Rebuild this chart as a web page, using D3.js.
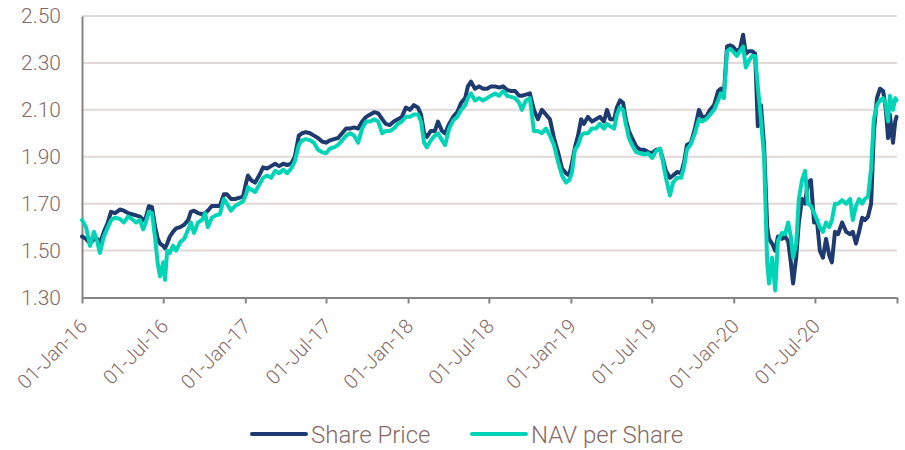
<!DOCTYPE html>
<html>
<head>
<meta charset="utf-8">
<script src="https://cdn.jsdelivr.net/npm/d3@7"></script>
<style>
  html, body { margin: 0; padding: 0; background: #ffffff; }
  svg { display: block; }
  text { font-family: Roboto, "Open Sans", sans-serif; font-weight: 300; fill: #866a66; }
</style>
</head>
<body>
<svg id="chart" width="905" height="450"></svg>
<script>
const dates = [
  "2016-01-01","2016-01-10","2016-01-19","2016-01-28","2016-02-04","2016-02-10","2016-02-19","2016-02-28",
  "2016-03-06","2016-03-15","2016-03-26","2016-04-04","2016-04-13","2016-04-22","2016-05-01","2016-05-10",
  "2016-05-17","2016-05-23","2016-05-30","2016-06-06","2016-06-13","2016-06-19","2016-06-24","2016-07-01",
  "2016-07-05","2016-07-10","2016-07-16","2016-07-23","2016-07-30","2016-08-08","2016-08-17","2016-08-26",
  "2016-09-01","2016-09-08","2016-09-17","2016-09-26","2016-10-03","2016-10-09","2016-10-18","2016-10-27",
  "2016-11-05","2016-11-14","2016-11-21","2016-11-30","2016-12-09","2016-12-18","2016-12-27",
  "2017-01-03","2017-01-07","2017-01-14","2017-01-23","2017-02-01","2017-02-10","2017-02-19","2017-02-28",
  "2017-03-09","2017-03-18","2017-03-27","2017-04-05","2017-04-14","2017-04-22","2017-05-01","2017-05-08",
  "2017-05-17","2017-05-26","2017-06-04","2017-06-13","2017-06-22","2017-07-01","2017-07-10","2017-07-19",
  "2017-07-28","2017-08-06","2017-08-15","2017-08-24","2017-09-02","2017-09-11","2017-09-20","2017-09-29",
  "2017-10-08","2017-10-17","2017-10-26","2017-11-04","2017-11-12","2017-11-21","2017-11-30","2017-12-09",
  "2017-12-18","2017-12-27",
  "2018-01-05","2018-01-14","2018-01-23","2018-01-30","2018-02-06","2018-02-12","2018-02-21","2018-03-02",
  "2018-03-09","2018-03-18","2018-03-25","2018-04-03","2018-04-12","2018-04-21","2018-04-30","2018-05-09",
  "2018-05-15","2018-05-22","2018-05-31","2018-06-09","2018-06-18","2018-06-27","2018-07-06","2018-07-15",
  "2018-07-24","2018-08-02","2018-08-11","2018-08-20","2018-08-29","2018-09-07","2018-09-13","2018-09-22",
  "2018-10-01","2018-10-10","2018-10-19","2018-10-28","2018-11-06","2018-11-15","2018-11-24","2018-12-03",
  "2018-12-12","2018-12-21","2018-12-28",
  "2019-01-03","2019-01-10","2019-01-17","2019-01-24","2019-01-30","2019-02-08","2019-02-17","2019-02-26",
  "2019-03-07","2019-03-16","2019-03-23","2019-03-30","2019-04-08","2019-04-14","2019-04-21","2019-04-28",
  "2019-05-04","2019-05-11","2019-05-18","2019-05-27","2019-06-05","2019-06-14","2019-06-23","2019-07-02",
  "2019-07-11","2019-07-20","2019-07-26","2019-08-02","2019-08-11","2019-08-18","2019-08-27","2019-09-05",
  "2019-09-12","2019-09-18","2019-09-27","2019-10-06","2019-10-15","2019-10-22","2019-10-31","2019-11-09",
  "2019-11-18","2019-11-27","2019-12-03","2019-12-10","2019-12-17","2019-12-24","2019-12-30",
  "2020-01-08","2020-01-15","2020-01-22","2020-01-28","2020-02-04","2020-02-11","2020-02-18","2020-02-24",
  "2020-03-02","2020-03-09","2020-03-16","2020-03-20","2020-03-27","2020-04-03","2020-04-09","2020-04-18",
  "2020-04-25","2020-05-02","2020-05-08","2020-05-13","2020-05-20","2020-05-26","2020-06-02","2020-06-09",
  "2020-06-15","2020-06-22","2020-06-29","2020-07-06","2020-07-12","2020-07-19","2020-07-26","2020-08-02",
  "2020-08-08","2020-08-15","2020-08-22","2020-08-31","2020-09-09","2020-09-18","2020-09-24","2020-10-01",
  "2020-10-08","2020-10-15","2020-10-21","2020-10-28","2020-11-04","2020-11-10","2020-11-17","2020-11-24",
  "2020-12-01","2020-12-07","2020-12-12","2020-12-16","2020-12-23","2020-12-28","2020-12-31"
];

const sharePrice = [
  1.56,1.55,1.53,1.55,1.55,1.53,1.58,1.62,
  1.665,1.66,1.675,1.67,1.66,1.655,1.65,1.645,
  1.63,1.64,1.69,1.685,1.60,1.55,1.53,1.52,
  1.51,1.53,1.56,1.58,1.595,1.60,1.61,1.63,
  1.665,1.67,1.66,1.655,1.66,1.67,1.69,1.69,
  1.69,1.74,1.74,1.72,1.72,1.725,1.73,
  1.79,1.82,1.80,1.79,1.82,1.855,1.85,1.86,
  1.87,1.86,1.87,1.865,1.87,1.90,1.99,2.00,
  2.005,2.00,1.99,1.98,1.965,1.96,1.97,1.975,
  1.98,2.00,2.02,2.02,2.025,2.02,2.05,2.07,
  2.08,2.09,2.085,2.06,2.04,2.035,2.05,2.06,
  2.07,2.11,
  2.10,2.12,2.11,2.08,2.00,1.985,2.01,2.01,
  2.05,2.01,2.00,2.04,2.07,2.09,2.13,2.15,
  2.20,2.22,2.19,2.20,2.19,2.19,2.20,2.20,
  2.195,2.20,2.185,2.18,2.18,2.16,2.16,2.165,
  2.17,2.10,2.06,2.10,2.08,2.06,1.98,1.92,
  1.85,1.83,1.82,
  1.87,1.94,1.99,2.06,2.04,2.07,2.05,2.06,
  2.07,2.05,2.10,2.06,2.06,2.11,2.14,2.13,
  2.06,2.01,1.98,1.945,1.93,1.93,1.92,1.915,
  1.93,1.93,1.89,1.84,1.81,1.82,1.835,1.83,
  1.88,1.95,1.96,2.02,2.10,2.07,2.07,2.10,
  2.12,2.18,2.19,2.17,2.37,2.375,2.37,
  2.35,2.36,2.42,2.34,2.35,2.35,2.34,2.03,
  2.12,1.95,1.60,1.55,1.53,1.50,1.56,1.55,
  1.56,1.54,1.45,1.36,1.47,1.62,1.72,1.70,
  1.79,1.80,1.62,1.62,1.50,1.47,1.55,1.48,
  1.45,1.58,1.57,1.62,1.58,1.57,1.58,1.53,
  1.58,1.64,1.63,1.645,1.70,2.00,2.15,2.19,
  2.18,2.10,1.98,2.08,1.96,2.05,2.07
];

const navPerShare = [
  1.63,1.60,1.52,1.58,1.54,1.49,1.56,1.60,
  1.63,1.64,1.635,1.62,1.645,1.635,1.62,1.63,
  1.59,1.62,1.665,1.66,1.55,1.44,1.39,1.45,
  1.375,1.50,1.49,1.52,1.50,1.535,1.55,1.59,
  1.62,1.575,1.62,1.63,1.66,1.60,1.64,1.65,
  1.655,1.72,1.70,1.67,1.69,1.70,1.71,
  1.74,1.77,1.76,1.75,1.78,1.81,1.82,1.81,
  1.84,1.83,1.845,1.83,1.85,1.88,1.95,1.97,
  1.975,1.97,1.96,1.93,1.92,1.915,1.935,1.94,
  1.95,1.97,1.99,2.00,1.99,1.96,2.02,2.05,
  2.05,2.06,2.05,2.00,2.01,2.01,2.02,2.04,
  2.05,2.07,
  2.07,2.08,2.08,2.05,1.96,1.94,1.97,1.99,
  2.00,1.97,1.95,2.02,2.055,2.07,2.10,2.12,
  2.15,2.17,2.14,2.15,2.14,2.15,2.16,2.17,
  2.16,2.18,2.16,2.155,2.15,2.13,2.10,2.14,
  2.15,2.01,2.01,2.00,2.02,1.99,1.95,1.88,
  1.82,1.79,1.80,
  1.83,1.93,1.95,1.99,2.00,2.00,2.02,2.02,
  2.04,2.02,2.04,2.03,2.02,2.08,2.11,2.10,
  2.04,1.98,1.95,1.92,1.915,1.91,1.915,1.895,
  1.925,1.935,1.88,1.81,1.735,1.79,1.81,1.81,
  1.86,1.93,1.955,2.00,2.06,2.05,2.06,2.08,
  2.10,2.14,2.17,2.15,2.35,2.36,2.35,
  2.33,2.35,2.37,2.28,2.31,2.33,2.33,2.20,
  2.06,1.90,1.45,1.36,1.47,1.33,1.54,1.575,
  1.57,1.62,1.56,1.47,1.53,1.72,1.80,1.84,
  1.70,1.69,1.66,1.63,1.60,1.58,1.62,1.60,
  1.63,1.70,1.70,1.715,1.70,1.72,1.63,1.69,
  1.72,1.70,1.72,1.73,1.85,2.06,2.12,2.14,
  2.15,2.12,2.05,2.16,2.10,2.15,2.14
];

const yTicks = [1.30, 1.50, 1.70, 1.90, 2.10, 2.30, 2.50];
const xTickDates = ["2016-01-01","2016-07-01","2017-01-01","2017-07-01","2018-01-01","2018-07-01",
                    "2019-01-01","2019-07-01","2020-01-01","2020-07-01","2021-01-01"];
const xTickLabels = ["01-Jan-16","01-Jul-16","01-Jan-17","01-Jul-17","01-Jan-18","01-Jul-18",
                     "01-Jan-19","01-Jul-19","01-Jan-20","01-Jul-20",""];
const seriesNames = ["Share Price", "NAV per Share"];
const seriesColors = ["#1f3a6e", "#00d4b6"];

const parse = d3.utcParse("%Y-%m-%d");
const svg = d3.select("#chart");
const margin = {left: 82, right: 8, top: 16, bottom: 152.5};
const W = 905, H = 450;

const x = d3.scaleUtc()
  .domain([parse("2016-01-01"), parse("2021-01-01")])
  .range([margin.left, W - margin.right]);
const y = d3.scaleLinear()
  .domain([1.30, 2.50])
  .range([H - margin.bottom, margin.top]);

// gridlines
svg.append("g")
  .selectAll("line")
  .data(yTicks.filter(t => t > 1.30))
  .join("line")
  .attr("x1", margin.left).attr("x2", W - margin.right)
  .attr("y1", d => y(d)).attr("y2", d => y(d))
  .attr("stroke", "#e2d8d8").attr("stroke-width", 2);

// y axis
const yAxis = svg.append("g")
  .attr("transform", `translate(${margin.left},0)`)
  .call(d3.axisLeft(y).tickValues(yTicks).tickFormat(d3.format(".2f")).tickSize(0).tickPadding(21));
yAxis.select(".domain").attr("stroke", "#858585").attr("stroke-width", 2);
yAxis.selectAll("text").attr("font-size", 21).style("font-family", "Roboto, sans-serif").attr("fill", "#866a66");

// x axis
const xAxis = svg.append("g")
  .attr("transform", `translate(0,${y(1.30)})`)
  .call(d3.axisBottom(x).tickValues(xTickDates.map(parse)).tickFormat((d, i) => xTickLabels[i]).tickSize(6).tickSizeOuter(0));
xAxis.select(".domain").attr("stroke", "#858585").attr("stroke-width", 2);
xAxis.selectAll(".tick line").attr("stroke", "#858585").attr("stroke-width", 2);
xAxis.selectAll("text")
  .attr("font-size", 20)
  .style("font-family", "Roboto, sans-serif")
  .attr("fill", "#866a66")
  .attr("text-anchor", "end")
  .attr("dy", null)
  .attr("y", 0)
  .attr("transform", "translate(6,30) rotate(-45)");

// lines
const data = dates.map((d, i) => ({date: parse(d), sp: sharePrice[i], nav: navPerShare[i]}));
const lineSP = d3.line().x(d => x(d.date)).y(d => y(d.sp));
const lineNAV = d3.line().x(d => x(d.date)).y(d => y(d.nav));

svg.append("path").datum(data).attr("d", lineSP)
  .attr("fill", "none").attr("stroke", seriesColors[0]).attr("stroke-width", 4)
  .attr("stroke-linejoin", "round").attr("stroke-linecap", "round");
svg.append("path").datum(data).attr("d", lineNAV)
  .attr("fill", "none").attr("stroke", seriesColors[1]).attr("stroke-width", 4)
  .attr("stroke-linejoin", "round").attr("stroke-linecap", "round");

// legend
const legendItems = [{x: 252}, {x: 472}];
const lg = svg.append("g");
seriesNames.forEach((name, i) => {
  const g = lg.append("g").attr("transform", `translate(${legendItems[i].x},434)`);
  g.append("line").attr("x1", 0).attr("x2", 54).attr("y1", 0).attr("y2", 0)
    .attr("stroke", seriesColors[i]).attr("stroke-width", 4).attr("stroke-linecap", "round");
  g.append("text").attr("x", 59).attr("y", 9).attr("font-size", 24).text(name);
});
</script>
</body>
</html>
